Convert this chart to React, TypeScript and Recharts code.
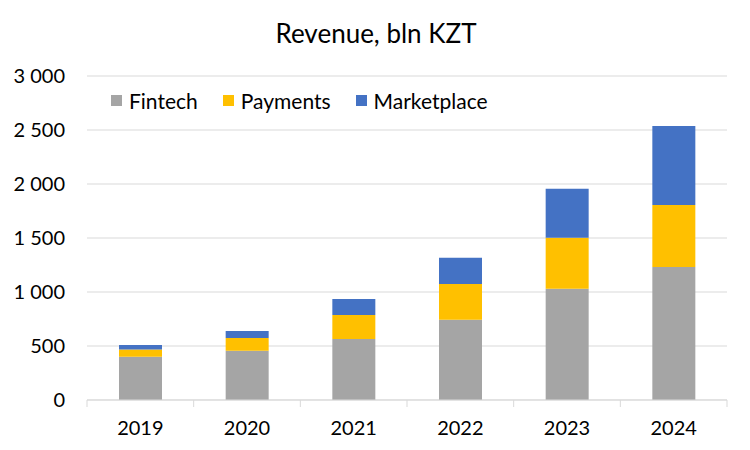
import { BarChart, Bar, XAxis, YAxis, CartesianGrid, Legend } from 'recharts'

const years = ['2019', '2020', '2021', '2022', '2023', '2024']
const fintech = [400, 455, 565, 742, 1029, 1232]
const payments = [68, 120, 222, 333, 474, 574]
const marketplace = [42, 64, 148, 241, 452, 731]
const yTicks = [0, 500, 1000, 1500, 2000, 2500, 3000]

const series = [
    { key: 'fintech', name: 'Fintech', color: '#A5A5A5' },
    { key: 'payments', name: 'Payments', color: '#FFC000' },
    { key: 'marketplace', name: 'Marketplace', color: '#4472C4' },
]

const data = years.map((year, i) => ({
    year,
    fintech: fintech[i],
    payments: payments[i],
    marketplace: marketplace[i],
}))

const FONT = 'Lato, "Open Sans", sans-serif'

const formatThousands = (v: number) => String(v).replace(/\B(?=(\d{3})+(?!\d))/g, ' ')

// Excel-style axis: tick marks between categories, labels at the centres
function YearTick(props: any) {
    const { x, y, payload, index } = props
    const half = payload.offset || 0
    return (
        <g>
            <line x1={x - half} x2={x - half} y1={y} y2={y + 7} stroke="#d9d9d9" strokeWidth={1} />
            {index === years.length - 1 && (
                <line x1={x + half} x2={x + half} y1={y} y2={y + 7} stroke="#d9d9d9" strokeWidth={1} />
            )}
            <text x={x} y={y + 35} textAnchor="middle" fontSize={20} fontFamily={FONT} fill="#000">
                {payload.value}
            </text>
        </g>
    )
}

function LegendContent() {
    return (
        <div style={{ display: 'flex', alignItems: 'center', fontFamily: FONT, fontSize: 21, color: '#000' }}>
            {series.map((s, i) => (
                <div key={s.key} style={{ display: 'flex', alignItems: 'center', marginRight: i < series.length - 1 ? 25 : 0 }}>
                    <span style={{ width: 11, height: 11, background: s.color, display: 'inline-block', marginRight: 7 }} />
                    <span>{s.name}</span>
                </div>
            ))}
        </div>
    )
}

export default function App() {
    return (
        <div style={{ position: 'absolute', left: 0, top: 0, width: 750, height: 450, background: '#fff' }}>
            <div
                style={{
                    position: 'absolute',
                    top: 17,
                    left: 0,
                    width: 752,
                    textAlign: 'center',
                    fontFamily: FONT,
                    fontSize: 26,
                    color: '#000',
                }}
            >
                Revenue, bln KZT
            </div>
            <BarChart
                width={750}
                height={450}
                data={data}
                margin={{ top: 76, right: 23, bottom: 0, left: 0 }}
                barCategoryGap="30%"
            >
                <CartesianGrid vertical={false} stroke="#d9d9d9" />
                <XAxis
                    dataKey="year"
                    interval={0}
                    tick={<YearTick />}
                    tickLine={false}
                    axisLine={{ stroke: '#d9d9d9' }}
                    height={50}
                    tickSize={0}
                    tickMargin={0}
                />
                <YAxis
                    width={87}
                    domain={[0, 3000]}
                    ticks={yTicks}
                    tickFormatter={formatThousands}
                    axisLine={false}
                    tickLine={false}
                    tickMargin={16}
                    tick={{ fill: '#000', fontSize: 20, fontFamily: FONT }}
                />
                <Legend
                    layout="horizontal"
                    verticalAlign="middle"
                    content={<LegendContent />}
                    wrapperStyle={{ top: 88, left: 111, width: 'auto' }}
                />
                {series.map((s) => (
                    <Bar key={s.key} dataKey={s.key} name={s.name} stackId="rev" fill={s.color} isAnimationActive={false} />
                ))}
            </BarChart>
        </div>
    )
}
